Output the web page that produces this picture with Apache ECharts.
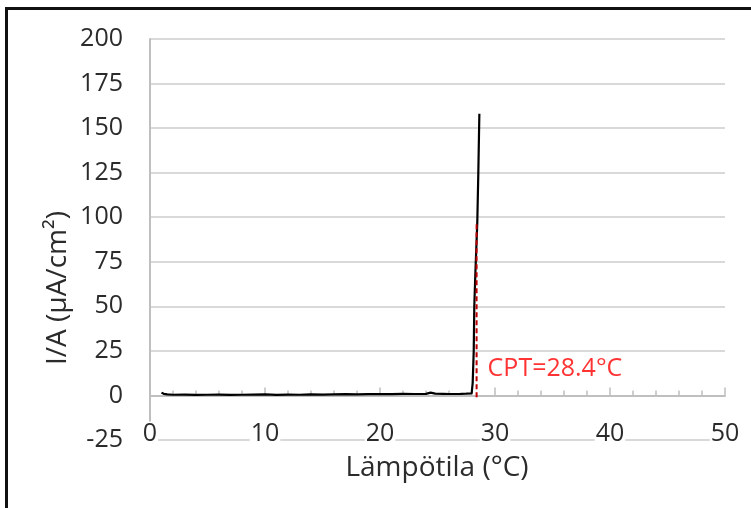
<!DOCTYPE html>
<html><head><meta charset="utf-8">
<script src="https://cdn.jsdelivr.net/npm/echarts@6/dist/echarts.min.js"></script>
<style>html,body{margin:0;padding:0;background:#fff}#c{width:751px;height:508px}</style>
</head><body><div id="c"></div>
<script>
// Data
const temperature = [1.0, 1.2, 1.5, 2, 3, 4, 5, 6, 7, 8, 9, 10, 11, 12, 13, 14, 15, 16, 17, 18, 19, 20, 21, 22, 23, 24, 24.4, 24.8, 25.5, 26, 27, 27.5, 27.97, 28.06, 28.15, 28.2, 28.3, 28.46, 28.55, 28.64];
const current = [1.6, 0.9, 0.6, 0.4, 0.5, 0.3, 0.4, 0.5, 0.3, 0.4, 0.5, 0.6, 0.3, 0.5, 0.4, 0.6, 0.5, 0.6, 0.7, 0.6, 0.7, 0.8, 0.7, 0.9, 0.8, 0.9, 1.6, 1.0, 0.9, 0.8, 0.9, 1.0, 1.1, 7, 25, 50, 70, 97, 125, 158];
const cptTemp = 28.4;
const cptLineRange = [-1, 97];
const cptLabelY = 14.8;
const cptText = 'CPT=28.4°C';
const xTitle = 'Lämpötila (°C)';
const yTitle = 'I/A (µA/cm²)';

const FONT = 'Open Sans';
const chart = echarts.init(document.getElementById('c'));
chart.setOption({
  animation: false,
  backgroundColor: '#fff',
  grid: {left: 150, right: 26, top: 39, bottom: 68},
  xAxis: [{
    type: 'value', min: 0, max: 50, interval: 10, position: 'bottom',
    axisLine: {show: false}, axisTick: {show: false}, splitLine: {show: false},
    axisLabel: {margin: -6, verticalAlign: 'middle', fontFamily: FONT, fontSize: 25, color: '#2b2b2b',
      backgroundColor: '#fff', padding: [0, 1]}
  }, {
    type: 'value', min: 0, max: 50, interval: 10, position: 'bottom',
    axisLine: {show: true, onZero: true, onZeroAxisIndex: 0, lineStyle: {color: '#bfbfbf', width: 2}},
    axisTick: {show: true, inside: true, length: 8, lineStyle: {color: '#bfbfbf', width: 1.5}},
    minorTick: {show: true, splitNumber: 5, length: 5, lineStyle: {color: '#bfbfbf', width: 1.5}},
    axisLabel: {show: false}, splitLine: {show: false}
  }],
  yAxis: {
    type: 'value', min: -25, max: 200, interval: 25,
    axisLine: {show: true, onZero: false, lineStyle: {color: '#bfbfbf', width: 2}},
    axisTick: {show: false},
    splitLine: {show: true, lineStyle: {color: '#d9d9d9', width: 2}},
    axisLabel: {margin: 27, fontFamily: FONT, fontSize: 25, color: '#2b2b2b'}
  },
  series: [{
    type: 'line', xAxisIndex: 0, showSymbol: false, symbol: 'none',
    data: temperature.map((t, i) => [t, current[i]]),
    lineStyle: {color: '#000', width: 2.2}, z: 5
  }, {
    type: 'line', xAxisIndex: 0, symbol: 'none',
    data: cptLineRange.map(v => [cptTemp, v]),
    lineStyle: {color: '#c00000', width: 2, type: [5, 3]}, z: 6
  }, {
    type: 'scatter', xAxisIndex: 0, symbolSize: 0,
    data: [[cptTemp, cptLabelY]],
    label: {show: true, position: 'right', distance: 11, formatter: cptText,
      fontFamily: FONT, fontSize: 25, color: '#ff0000'}
  }],
  graphic: [{
    type: 'rect', shape: {x: 6.5, y: 8.5, width: 800, height: 600},
    style: {fill: 'none', stroke: '#111', lineWidth: 3}, silent: true
  }, {
    type: 'text', x: 58, y: 288, rotation: Math.PI / 2,
    style: {text: yTitle, font: '28px "Open Sans"', fill: '#2b2b2b', align: 'center', verticalAlign: 'middle'}
  }, {
    type: 'text', x: 437, y: 468,
    style: {text: xTitle, font: '28px "Open Sans"', fill: '#2b2b2b', align: 'center', verticalAlign: 'middle'}
  }]
});
</script></body></html>
